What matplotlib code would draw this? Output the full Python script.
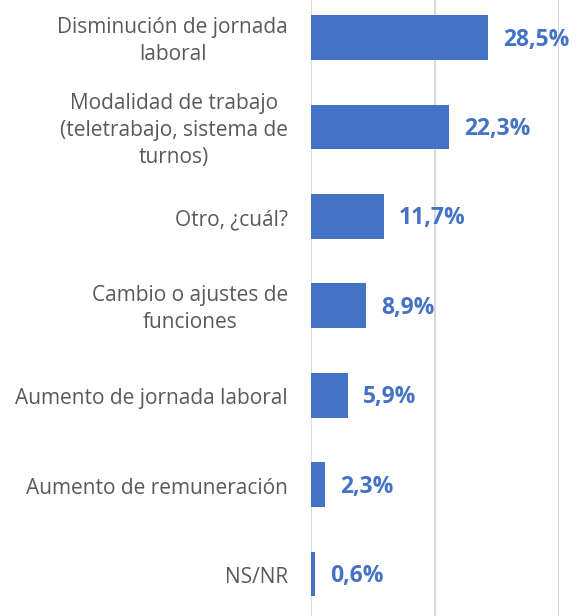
import matplotlib
matplotlib.use('Agg')
import matplotlib.pyplot as plt

categories = ['Disminución de jornada\nlaboral',
              'Modalidad de trabajo\n(teletrabajo, sistema de\nturnos)',
              'Otro, ¿cuál?',
              'Cambio o ajustes de\nfunciones',
              'Aumento de jornada laboral',
              'Aumento de remuneración',
              'NS/NR']
values = [28.5, 22.3, 11.7, 8.9, 5.9, 2.3, 0.6]
value_labels = ['28,5%', '22,3%', '11,7%', '8,9%', '5,9%', '2,3%', '0,6%']
xticks = [0, 20, 40]

plt.rcParams['font.family'] = ['Open Sans', 'DejaVu Sans']
blue = '#4472C4'
grey = '#595959'

fig = plt.figure(figsize=(5.8, 6.16), dpi=100)
ax = fig.add_axes([311/580, 0, 248/580, 1])

pos = list(range(len(categories)))
ax.barh(pos, values, height=0.5, color=blue, zorder=3)

for p, v, lab in zip(pos, values, value_labels):
    ax.annotate(lab, (v, p), xytext=(11, -1.5), textcoords='offset points',
                ha='left', va='center', color=blue, fontsize=16.5,
                fontweight='bold', annotation_clip=False)

# category labels, right edge at ~288 px, centred lines
for p, c in zip(pos, categories):
    ax.annotate(c, ((288 - 311) / 248, p), xycoords=ax.get_yaxis_transform(),
                xytext=(0, -2.5), textcoords='offset points',
                ha='right', va='center', multialignment='center',
                fontsize=15, color=grey, linespacing=1.4,
                annotation_clip=False)

ax.set_xlim(0, 40)
ax.set_ylim(6.47, -0.42)
ax.set_xticks(xticks)
ax.set_yticks([])
ax.xaxis.grid(True, color='#d9d9d9', lw=1.5, zorder=0)
ax.tick_params(axis='x', bottom=False, labelbottom=False)
for s in ax.spines.values():
    s.set_visible(False)

fig.savefig('out.png', dpi=100)
